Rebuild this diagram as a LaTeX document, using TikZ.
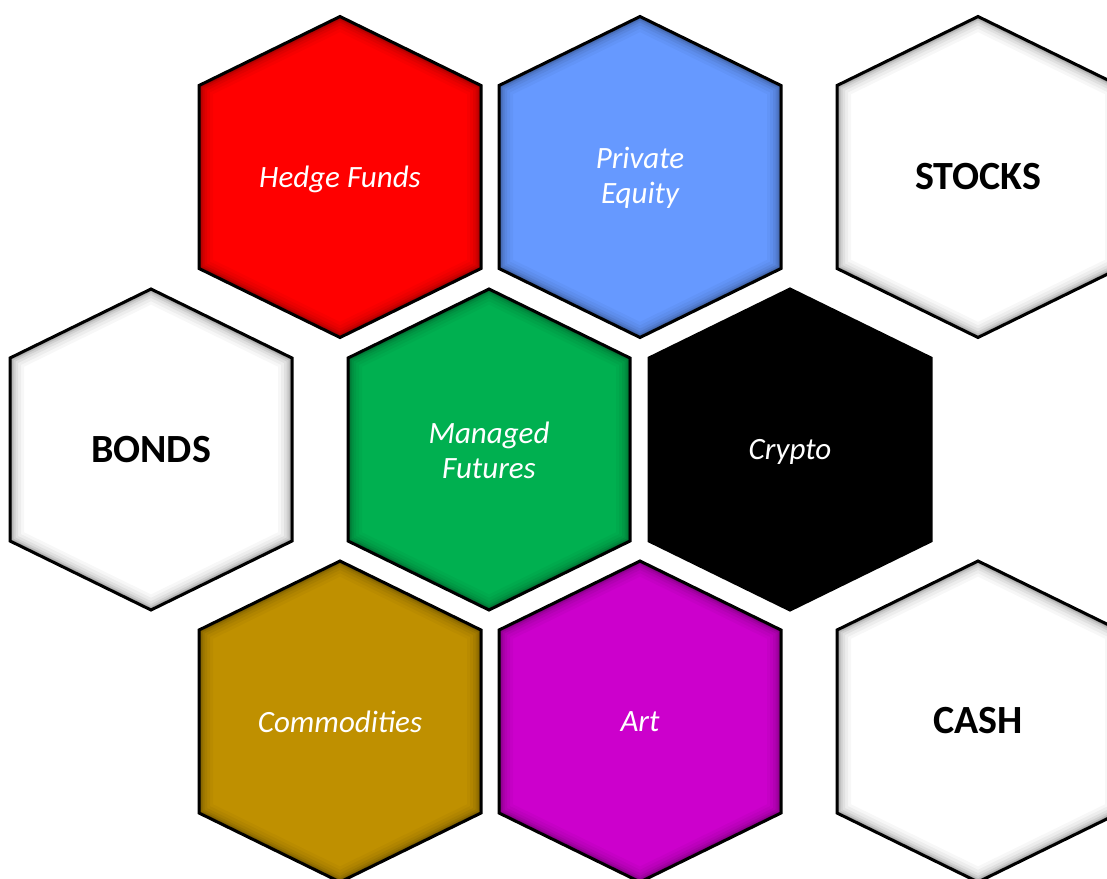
\documentclass[tikz,border=0pt]{standalone}
\usepackage{fontspec}
\setmainfont{Carlito}
\usepackage{tikz}

\definecolor{hfred}{HTML}{FF0000}
\definecolor{peblue}{HTML}{6699FF}
\definecolor{mfgreen}{HTML}{00B050}
\definecolor{cogold}{HTML}{BF9000}
\definecolor{artpurple}{HTML}{CC00CC}

% hexagon outline round a centre (x,y)
\newcommand\hexpath[2]{(#1,#2) ++(0,-160) -- ++(141,69) -- ++(0,183) -- ++(-141,69) -- ++(-141,-69) -- ++(0,-183) -- cycle}

% filled hexagon with a soft inner shadow
\newcommand\hexcell[3]{%
  \fill[#3] \hexpath{#1}{#2};
  \begin{scope}
    \clip \hexpath{#1}{#2};
    \foreach \w/\o in {28/0.03,22/0.04,16/0.05,11/0.07,7/0.1,4/0.15}
      \draw[line width=\w pt, black, opacity=\o] \hexpath{#1}{#2};
  \end{scope}
  \draw[line width=3pt, line join=miter] \hexpath{#1}{#2};
}

\begin{document}
\begin{tikzpicture}[x=1pt, y=-1pt,
softlabel/.style={text=white, font=\fontsize{31}{35}\selectfont\itshape, align=center, yshift=-2pt},
hardlabel/.style={text=black, font=\fontsize{40}{44}\selectfont\bfseries, align=center, yshift=-1pt}
]
    \useasboundingbox (0,0) rectangle (1107,878);

    \hexcell{340}{176.5}{hfred}
    \hexcell{640}{176.5}{peblue}
    \hexcell{978}{176.5}{white}

    \hexcell{151}{449}{white}
    \hexcell{489}{449}{mfgreen}
    \hexcell{790}{449}{black}

    \hexcell{340}{721}{cogold}
    \hexcell{640}{721}{artpurple}
    \hexcell{978}{721}{white}

    \node [softlabel] (hedge) at (340,177) {Hedge Funds};
    \node [softlabel] (private) at (640,176) {Private\\Equity};
    \node [hardlabel] (stocks) at (978,176) {STOCKS};

    \node [hardlabel] (bonds) at (151,449) {BONDS};
    \node [softlabel] (managed) at (489,448) {Managed\\Futures};
    \node [softlabel] (crypto) at (790,450) {Crypto};

    \node [softlabel] (commod) at (340,720) {Commodities};
    \node [softlabel] (art) at (640,720) {Art};
    \node [hardlabel] (cash) at (978,720) {CASH};

\end{tikzpicture}
\end{document}
